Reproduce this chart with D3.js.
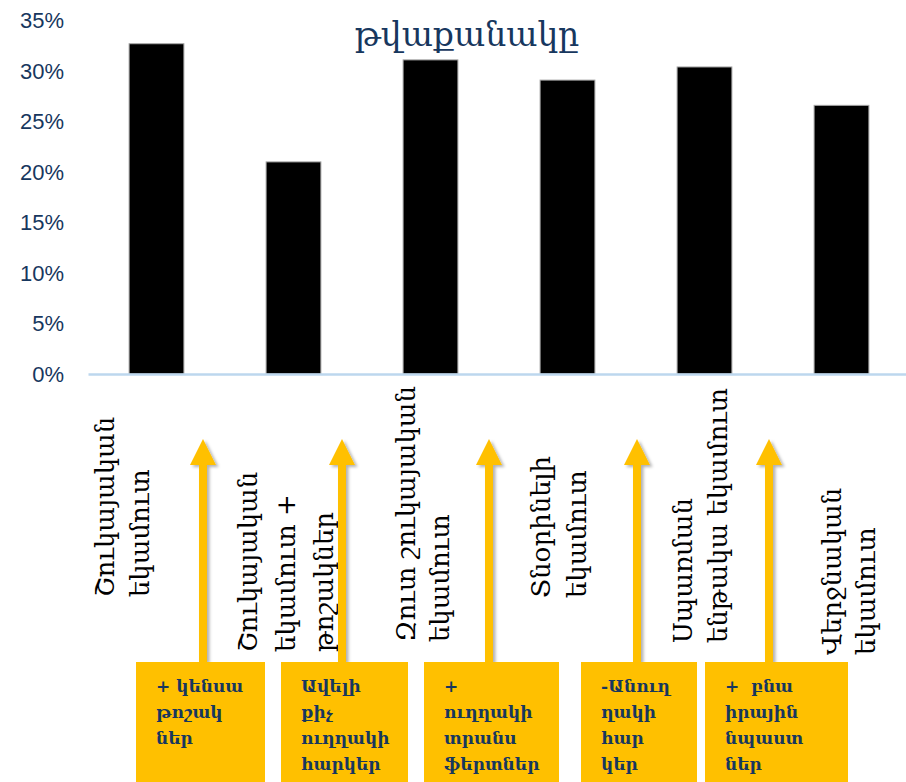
<!DOCTYPE html>
<html>
<head>
<meta charset="utf-8">
<script src="https://cdn.jsdelivr.net/npm/d3@7/dist/d3.min.js"></script>
<style>
  html, body { margin: 0; padding: 0; background: #ffffff; overflow: hidden; }
  svg { display: block; }
</style>
</head>
<body>
<svg id="chart" width="906" height="782"></svg>
<script>
// ---------- data ----------
const titleText = "թվաքանակը";
const categoryLines = [
  ["Շուկայական", "եկամուտ"],
  ["Շուկայական", "եկամուտ +", "թոշակներ"],
  ["Զուտ շուկայական", "եկամուտ"],
  ["Տնօրինելի", "եկամուտ"],
  ["Սպառման", "ենթակա եկամուտ"],
  ["Վերջնական", "եկամուտ"]
];
const categories = categoryLines.map(l => l.join(" "));
const values = [32.7, 21.0, 31.1, 29.1, 30.4, 26.6];
const yTicks = [0, 5, 10, 15, 20, 25, 30, 35];
const annotationLines = [
  ["+ կենսա", "թոշակ", "ներ"],
  ["Ավելի", "քիչ", "ուղղակի", "հարկեր"],
  ["+", "ուղղակի", "տրանս", "ֆերտներ"],
  ["-Անուղ", "ղակի", "հար", "կեր"],
  ["+  բնա", "իրային", "նպաստ", "ներ"]
];

// ---------- layout (not data) ----------
const W = 906, H = 782;
const axisY = 374, topY = 20.5;
const plotLeft = 88, plotRight = 910;
const labelFirstOffset = [-51, -45, -24, -26, -21, -9];   // x offset of first label line from band centre
const labelLineGap = [35, 38, 34, 36, 35, 34];
const labelBottom = [597, 652, 642, 598, 643, 655];
const boxLeft = [136, 281, 424, 581, 705];
const boxRight = [265, 408, 559, 697, 848];
const arrowX = [203, 342, 489, 637, 769];
const boxTop = 662, arrowTip = 439;

const navy = "#17375E";
const gold = "#FFC000";
const serif = "'DejaVu Serif', serif";

const svg = d3.select("#chart");

// shadow filter
const defs = svg.append("defs");
const f = defs.append("filter").attr("id", "shadow").attr("x", "-50%").attr("y", "-10%").attr("width", "200%").attr("height", "130%");
f.append("feDropShadow").attr("dx", 2.5).attr("dy", 2).attr("stdDeviation", 1.5)
  .attr("flood-color", "#000").attr("flood-opacity", 0.3);

// scales
const x = d3.scaleBand().domain(categories).range([plotLeft, plotRight])
  .paddingInner(0.6).paddingOuter(0.3);
const y = d3.scaleLinear().domain([0, 35]).range([axisY, topY]);

// title
svg.append("text")
  .attr("x", 467).attr("y", 46)
  .attr("text-anchor", "middle")
  .attr("font-family", serif)
  .attr("font-size", 33)
  .attr("fill", navy)
  .text(titleText);

// y axis
const yAxis = d3.axisLeft(y).tickValues(yTicks).tickSize(0).tickPadding(0)
  .tickFormat(d => d + "%");
const gy = svg.append("g").attr("transform", "translate(64,0)").call(yAxis);
gy.select(".domain").remove();
gy.selectAll("text")
  .attr("font-family", "'Liberation Sans', Arial, sans-serif")
  .attr("font-size", 22)
  .attr("fill", navy);

// bars
svg.append("g").selectAll("rect")
  .data(values)
  .join("rect")
  .attr("x", (d, i) => x(categories[i]))
  .attr("y", d => y(d))
  .attr("width", x.bandwidth())
  .attr("height", d => axisY - y(d))
  .attr("fill", "#000")
  .attr("stroke", "#a6a6a6")
  .attr("stroke-width", 1);

// x axis line
const xAxis = d3.axisBottom(x).tickSize(0).tickSizeOuter(0).tickFormat("");
const gx = svg.append("g").attr("transform", `translate(0,${axisY})`).call(xAxis);
gx.select(".domain").attr("stroke", "#BDD7EE").attr("stroke-width", 2.5);

// category labels (rotated, reading bottom-to-top)
categoryLines.forEach((lines, i) => {
  const cx = x(categories[i]) + x.bandwidth() / 2;
  lines.forEach((line, j) => {
    const lx = cx + labelFirstOffset[i] + j * labelLineGap[i];
    svg.append("text")
      .attr("transform", `translate(${lx},${labelBottom[i]}) rotate(-90)`)
      .attr("dy", "0.33em")
      .attr("text-anchor", "start")
      .attr("font-family", serif)
      .attr("font-size", 26)
      .attr("fill", "#000")
      .text(line);
  });
});

// arrows
const ag = svg.append("g").attr("filter", "url(#shadow)");
arrowX.forEach(ax => {
  ag.append("rect")
    .attr("x", ax - 4).attr("y", arrowTip + 22)
    .attr("width", 8).attr("height", boxTop - arrowTip - 22)
    .attr("fill", gold);
  ag.append("path")
    .attr("d", `M${ax},${arrowTip} L${ax + 13},${arrowTip + 26} L${ax - 13},${arrowTip + 26} Z`)
    .attr("fill", gold);
});

// annotation boxes
annotationLines.forEach((lines, i) => {
  svg.append("rect")
    .attr("x", boxLeft[i]).attr("y", boxTop)
    .attr("width", boxRight[i] - boxLeft[i]).attr("height", H - boxTop + 5)
    .attr("fill", gold);
  const t = svg.append("text")
    .attr("font-family", serif)
    .attr("font-weight", "bold")
    .attr("font-size", 17)
    .attr("fill", navy);
  lines.forEach((line, j) => {
    t.append("tspan")
      .attr("x", boxLeft[i] + 20)
      .attr("y", boxTop + 30 + j * 26)
      .attr("xml:space", "preserve")
      .text(line);
  });
});
</script>
</body>
</html>
